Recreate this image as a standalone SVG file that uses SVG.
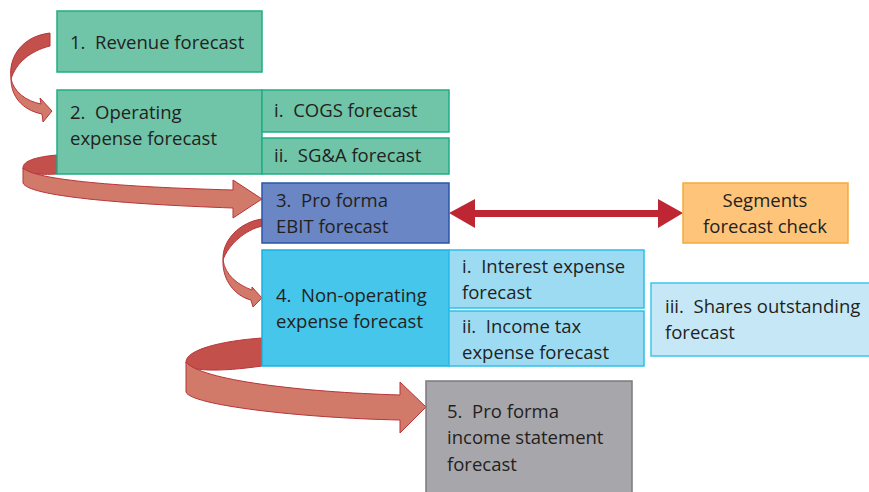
<svg xmlns="http://www.w3.org/2000/svg" width="869" height="492" viewBox="0 0 869 492">
<style>
text{font-family:"Open Sans","Liberation Sans",sans-serif;font-size:18.5px;fill:#231f20;white-space:pre}
.g{fill:#70c4a8;stroke:#1fae84;stroke-width:1.5}
.dk{fill:#c4504c;stroke:#b8343a;stroke-width:1}
.lt{fill:#d27a6a;stroke:#b8343a;stroke-width:1}
.c{text-anchor:middle}
</style>
<rect width="869" height="492" fill="#fff"/>
<g id="connectors">
  <g id="arrow1">
    <path class="dk" d="M50,33 C24,36 8,55 11,79 C16,63 30,51 50,46 Z"/>
    <path class="lt" d="M11,79 C14,92 26,101 41,104 L40,98 L52,111 L43,122 L42,114 C22,110 11,96 11,79 Z"/>
  </g>
  <g id="arrow2">
    <path class="dk" d="M57,155 C35,157 23,161 23,168 C23,174 40,175 57,174 Z"/>
    <path class="lt" d="M23,168 C35,180 120,187 233,190 L233,180 L262,199 L233,218 L233,208 C120,204 28,196 23,183 Z"/>
  </g>
  <g id="arrow3">
    <path class="dk" d="M262,219 C240,222 222,240 223,260 C228,245 245,230 262,226 Z"/>
    <path class="lt" d="M223,260 C225,275 238,285 252,290 L252,287 L262,298 L253,307 L251,300 C235,296 222,280 223,260 Z"/>
  </g>
  <g id="arrow4">
    <path class="dk" d="M262,338 C220,341 186,350 186,362 C186,372 220,372 262,366 Z"/>
    <path class="lt" d="M186,362 C200,380 300,392 400,395 L400,382 L426,407 L400,433 L400,420 C300,418 190,405 186,392 Z"/>
  </g>
  <path id="double-arrow" d="M449,213 L475,199 L475,210 L658,210 L658,199 L683,213 L658,228 L658,217 L475,217 L475,228 Z" fill="#bf2633"/>
</g>
<g id="n1">
  <rect class="g" x="57" y="11" width="205" height="61"/>
  <text x="70" y="49">1.  Revenue forecast</text>
</g>
<g id="n2">
  <rect class="g" x="57" y="90" width="205" height="84"/>
  <text x="70" y="119">2.  Operating</text>
  <text x="70" y="145">expense forecast</text>
</g>
<g id="n2i">
  <rect class="g" x="262" y="90" width="187" height="42"/>
  <text x="274" y="117">i.  COGS forecast</text>
</g>
<g id="n2ii">
  <rect class="g" x="262" y="138" width="187" height="36"/>
  <text x="274" y="162">ii.  SG&amp;A forecast</text>
</g>
<g id="n3">
  <rect x="262" y="183" width="187" height="60" fill="#6a86c4" stroke="#2a55a8" stroke-width="1.5"/>
  <text x="276" y="207">3.  Pro forma</text>
  <text x="276" y="233">EBIT forecast</text>
</g>
<g id="seg">
  <rect x="683" y="183" width="165" height="60" fill="#fdc47a" stroke="#f4a93e" stroke-width="1.5"/>
  <text class="c" x="765" y="207">Segments</text>
  <text class="c" x="765" y="233">forecast check</text>
</g>
<g id="n4">
  <rect x="262" y="250" width="187" height="116" fill="#45c6ea" stroke="#18b2e0" stroke-width="1.5"/>
  <text x="276" y="302">4.  Non-operating</text>
  <text x="276" y="328">expense forecast</text>
</g>
<g id="n4i">
  <rect x="449" y="250" width="195" height="58" fill="#9ddbf3" stroke="#2cbfe8" stroke-width="1.5"/>
  <text x="462" y="273">i.  Interest expense</text>
  <text x="462" y="299">forecast</text>
</g>
<g id="n4ii">
  <rect x="449" y="311" width="195" height="55" fill="#9ddbf3" stroke="#2cbfe8" stroke-width="1.5"/>
  <text x="462" y="333">ii.  Income tax</text>
  <text x="462" y="359">expense forecast</text>
</g>
<g id="n4iii">
  <rect x="651" y="283" width="222" height="73" fill="#c6e8f6" stroke="#3cc6ee" stroke-width="1.5"/>
  <text x="665" y="313">iii.  Shares outstanding</text>
  <text x="665" y="339">forecast</text>
</g>
<g id="n5">
  <rect x="426" y="381" width="206" height="115" fill="#a7a6ab" stroke="#7b7b7f" stroke-width="1.5"/>
  <text x="447" y="418">5.  Pro forma</text>
  <text x="447" y="444">income statement</text>
  <text x="447" y="471">forecast</text>
</g>
</svg>
